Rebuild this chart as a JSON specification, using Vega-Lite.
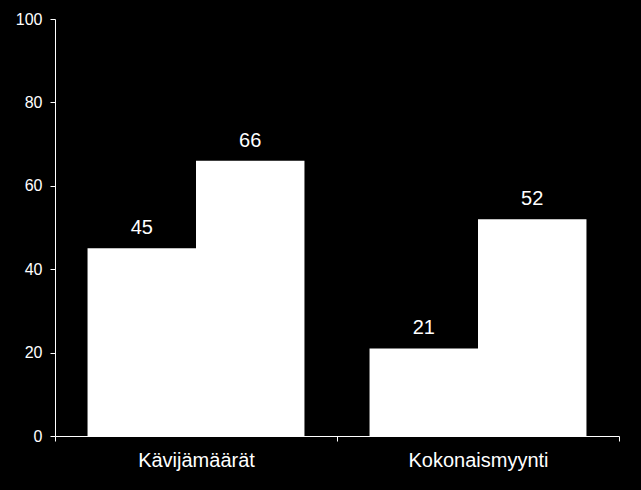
{
  "$schema": "https://vega.github.io/schema/vega-lite/v6.json",
  "background": "black",
  "autosize": {"type": "none"},
  "padding": {"left": 55, "top": 19, "right": 22, "bottom": 54},
  "width": 564,
  "height": 417,
  "data": {
    "values": [
      {"ryhma": "Kävijämäärät", "sarja": "1", "arvo": 45},
      {"ryhma": "Kävijämäärät", "sarja": "2", "arvo": 66},
      {"ryhma": "Kokonaismyynti", "sarja": "1", "arvo": 21},
      {"ryhma": "Kokonaismyynti", "sarja": "2", "arvo": 52}
    ]
  },
  "encoding": {
    "x": {
      "field": "ryhma",
      "type": "nominal",
      "sort": null,
      "title": null,
      "scale": {"paddingInner": 0, "paddingOuter": 0},
      "axis": {
        "labelAngle": 0,
        "labelColor": "white",
        "labelFontSize": 20,
        "labelFont": "Liberation Sans",
        "labelPadding": 9,
        "domainColor": "white",
        "tickColor": "white",
        "tickSize": 5,
        "tickBand": "extent"
      }
    },
    "xOffset": {
      "field": "sarja",
      "type": "nominal",
      "scale": {"paddingInner": 0, "paddingOuter": 0.3}
    },
    "y": {
      "field": "arvo",
      "type": "quantitative",
      "title": null,
      "scale": {"domain": [0, 100], "nice": false},
      "axis": {
        "values": [0, 20, 40, 60, 80, 100],
        "grid": false,
        "labelColor": "white",
        "labelFontSize": 16,
        "labelFont": "Liberation Sans",
        "labelPadding": 8,
        "domainColor": "white",
        "tickColor": "white",
        "tickSize": 5
      }
    }
  },
  "layer": [
    {"mark": {"type": "bar", "color": "white"}},
    {
      "mark": {
        "type": "text",
        "color": "white",
        "fontSize": 20,
        "font": "Liberation Sans",
        "baseline": "alphabetic",
        "dy": -14
      },
      "encoding": {"text": {"field": "arvo", "type": "quantitative"}}
    }
  ],
  "config": {"view": {"stroke": null}}
}
